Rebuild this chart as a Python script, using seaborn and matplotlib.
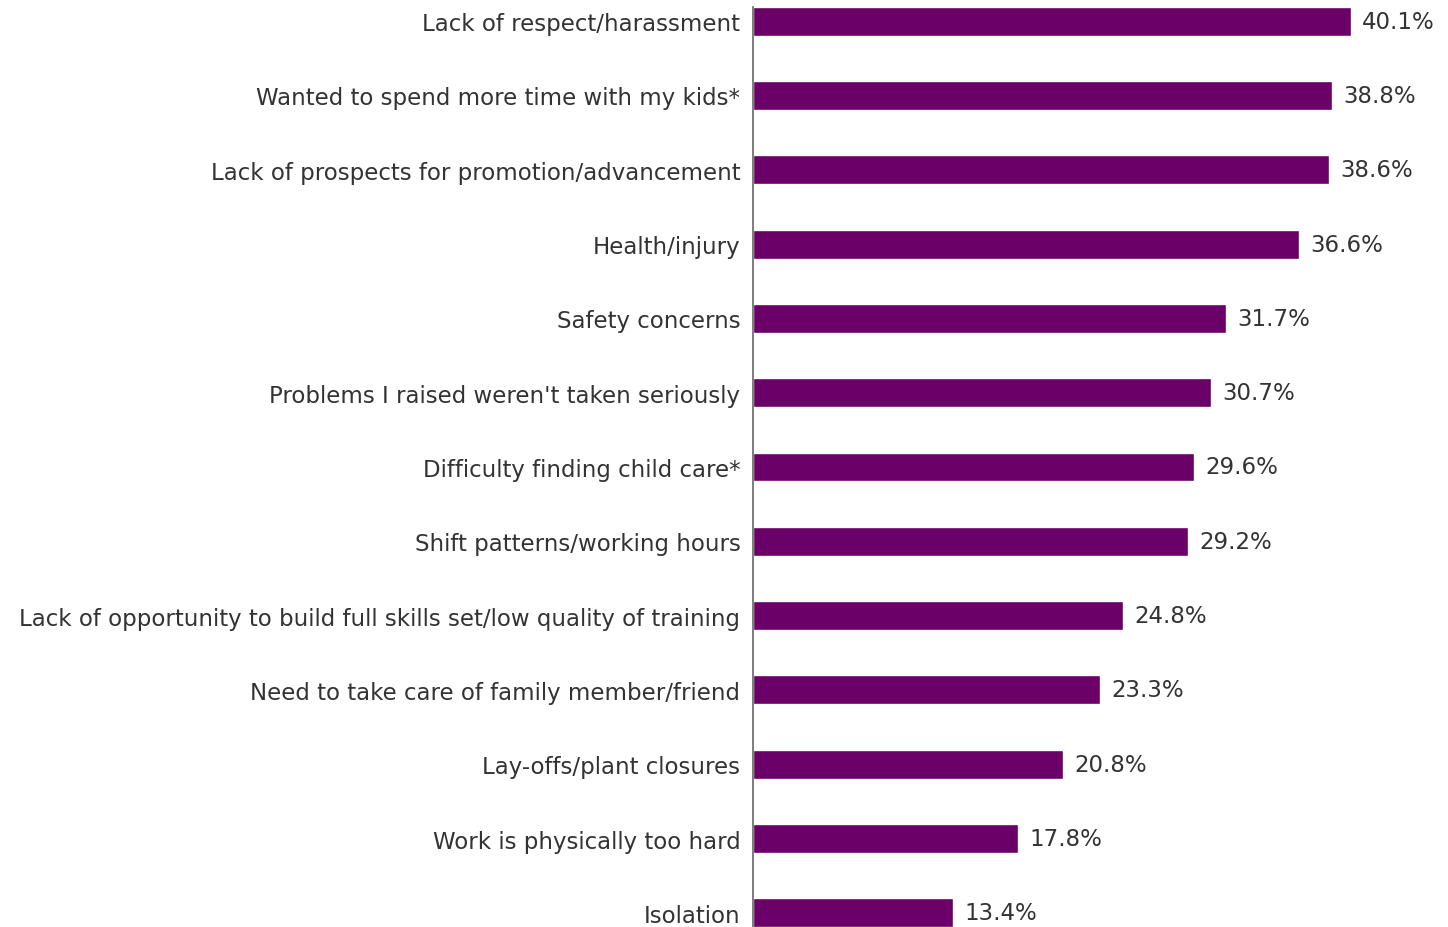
import pandas as pd
import seaborn as sns
import matplotlib.pyplot as plt

reasons = [
    "Lack of respect/harassment",
    "Wanted to spend more time with my kids*",
    "Lack of prospects for promotion/advancement",
    "Health/injury",
    "Safety concerns",
    "Problems I raised weren't taken seriously",
    "Difficulty finding child care*",
    "Shift patterns/working hours",
    "Lack of opportunity to build full skills set/low quality of training",
    "Need to take care of family member/friend",
    "Lay-offs/plant closures",
    "Work is physically too hard",
    "Isolation",
]
pct = [40.1, 38.8, 38.6, 36.6, 31.7, 30.7, 29.6, 29.2, 24.8, 23.3, 20.8, 17.8, 13.4]

df = pd.DataFrame({"reason": reasons, "pct": pct})

sns.set_style("white")
plt.rcParams['font.family'] = ['DejaVu Sans']

fig = plt.figure(figsize=(14.48, 9.28), dpi=100)
ax = fig.add_axes([0.52, 0.0, 0.48, 920 / 928])

sns.barplot(data=df, x="pct", y="reason", orient="h", color="#6a0068",
            width=0.39, saturation=1, ax=ax)

for i, v in enumerate(pct):
    ax.text(v + 0.75, i, f"{v}%", va="center", ha="left", fontsize=16.5, color="#333333")

ax.set_xlim(0, 46.6)
ax.set_ylim(12.19, -0.19)
ax.set_xlabel("")
ax.set_ylabel("")
ax.set_xticks([])
for s in ["top", "right", "bottom"]:
    ax.spines[s].set_visible(False)
ax.spines["left"].set_color("#666666")
ax.spines["left"].set_linewidth(1.2)
ax.tick_params(axis="y", length=0, pad=9, labelsize=16.5, labelcolor="#333333")

fig.savefig("out.png", dpi=100)
